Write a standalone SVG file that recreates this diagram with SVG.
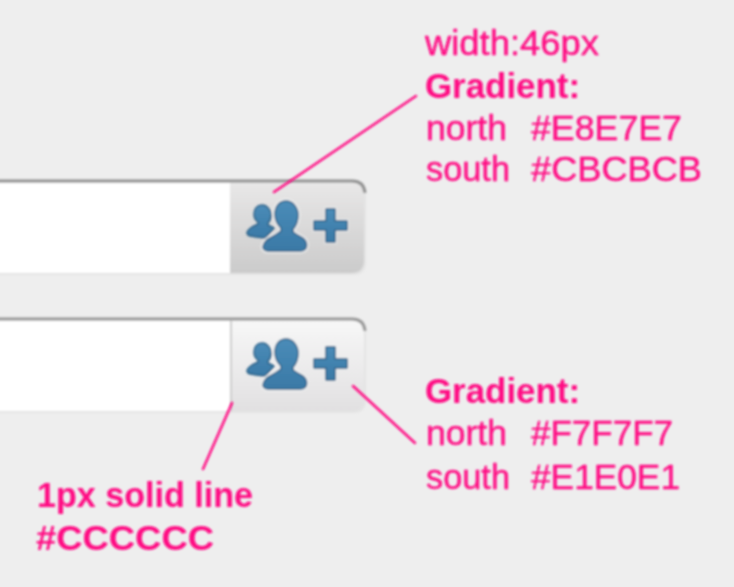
<svg xmlns="http://www.w3.org/2000/svg" width="734" height="587" viewBox="0 0 734 587">
<defs>
<style>
.t{font-family:'Liberation Sans',Arial,sans-serif;font-size:34.500px;fill:#FF0A84;stroke:#FF0A84;stroke-width:.35px}
.b{font-weight:700;stroke:none}
.ic{fill:url(#blue);stroke:#2f6288;stroke-width:1.500;stroke-linejoin:round}
</style>
<linearGradient id="g1" x1="0" y1="0" x2="0" y2="1"><stop offset="0" stop-color="#E8E7E7"/><stop offset="1" stop-color="#CBCBCB"/></linearGradient>
<linearGradient id="g2" x1="0" y1="0" x2="0" y2="1"><stop offset="0" stop-color="#F7F7F7"/><stop offset="1" stop-color="#E1E0E1"/></linearGradient>
<linearGradient id="blue" x1="0" y1="0" x2="0" y2="1"><stop offset="0" stop-color="#4a8cb8"/><stop offset="1" stop-color="#3a79a6"/></linearGradient>
<filter id="soft" x="-10%" y="-10%" width="120%" height="120%"><feGaussianBlur stdDeviation="0.8"/></filter>
<path id="big" d="M286 201c7 0 12 7 12 14 0 6-2 11-5 14l0 3c4 3 8 5 11 7 3 3 3 7 2 9-1 2-3 3-6 3l-32 0c-3 0-5-2-5-4 0-3 3-7 7-9 5-3 9-5 11-7l0-3c-3-3-6-8-6-14 0-8 5-13 11-13z"/>
<g id="icon" filter="url(#soft)">
<path class="ic" d="M262 205c5 0 9 5 9 10 0 4-1 6-3 8l0 2 6 3-9 10-9-1c-5-1-9-1-9-4 0-2 2-4 5-6l6-3 0-2c-3-2-4-5-4-8 0-5 3-9 8-9z"/>
<use href="#big" fill="none" stroke="#F2F2F2" stroke-width="5" stroke-opacity=".75"/>
<use href="#big" class="ic"/>
<path d="M326 209h9v12h12v9h-12v12h-9v-12h-12v-9h12z" fill="none" stroke="#F2F2F2" stroke-width="4" stroke-opacity=".6"/>
<path class="ic" d="M326 209h9v12h12v9h-12v12h-9v-12h-12v-9h12z"/>
</g>
</defs>
<rect width="734" height="587" fill="#EEEEEE"/>
<g id="field-top">
<g filter="url(#soft)">
<path d="M-10 179H352q14 0 14 14V262q0 13-13 13H-10z" fill="#E4E4E4"/>
<rect x="-10" y="183" width="240" height="90" fill="#FFFFFF"/>
<path d="M230 183H352q12 0 12 12V260q0 13-13 13H230z" fill="url(#g1)"/>
<path d="M-10 181H352q12 0 13 12" fill="none" stroke="#929292" stroke-width="3"/>
</g>
<use href="#icon"/>
</g>
<g id="field-bottom">
<g filter="url(#soft)">
<path d="M-10 317H352q14 0 14 14V400q0 13-13 13H-10z" fill="#E4E4E4"/>
<rect x="-10" y="321" width="241" height="90" fill="#FFFFFF"/>
<path d="M232 321H352q12 0 12 12V398q0 13-13 13H232z" fill="url(#g2)"/>
<path d="M231 321V411" stroke="#CCCCCC" stroke-width="2"/>
<path d="M-10 319H352q12 0 13 12" fill="none" stroke="#9A9A9A" stroke-width="3"/>
</g>
<use href="#icon" y="138"/>
</g>
<g id="connectors" fill="none" stroke="#FF0A84" stroke-width="2.500" stroke-linecap="round" filter="url(#soft)">
<path d="M274 192L416 96"/>
<path d="M353 386L415 443"/>
<path d="M232 403L203 469"/>
</g>
<g id="labels" filter="url(#soft)">
<g id="label-top">
<text class="t" x="425" y="55" textLength="174" lengthAdjust="spacingAndGlyphs">width:46px</text>
<text class="t b" x="425" y="98" textLength="155" lengthAdjust="spacingAndGlyphs">Gradient:</text>
<text class="t" x="426" y="140" textLength="81" lengthAdjust="spacingAndGlyphs">north</text><text class="t" x="531" y="140" textLength="151" lengthAdjust="spacingAndGlyphs">#E8E7E7</text>
<text class="t" x="426" y="181" textLength="84" lengthAdjust="spacingAndGlyphs">south</text><text class="t" x="531" y="181" textLength="171" lengthAdjust="spacingAndGlyphs">#CBCBCB</text>
</g>
<g id="label-right">
<text class="t b" x="425" y="403" textLength="155" lengthAdjust="spacingAndGlyphs">Gradient:</text>
<text class="t" x="426" y="445" textLength="81" lengthAdjust="spacingAndGlyphs">north</text><text class="t" x="531" y="445" textLength="142" lengthAdjust="spacingAndGlyphs">#F7F7F7</text>
<text class="t" x="426" y="489" textLength="84" lengthAdjust="spacingAndGlyphs">south</text><text class="t" x="531" y="489" textLength="149" lengthAdjust="spacingAndGlyphs">#E1E0E1</text>
</g>
<g id="label-left">
<text class="t b" x="37" y="507" textLength="216" lengthAdjust="spacingAndGlyphs">1px solid line</text>
<text class="t b" x="36" y="550" textLength="178" lengthAdjust="spacingAndGlyphs">#CCCCCC</text>
</g>
</g>
</svg>
